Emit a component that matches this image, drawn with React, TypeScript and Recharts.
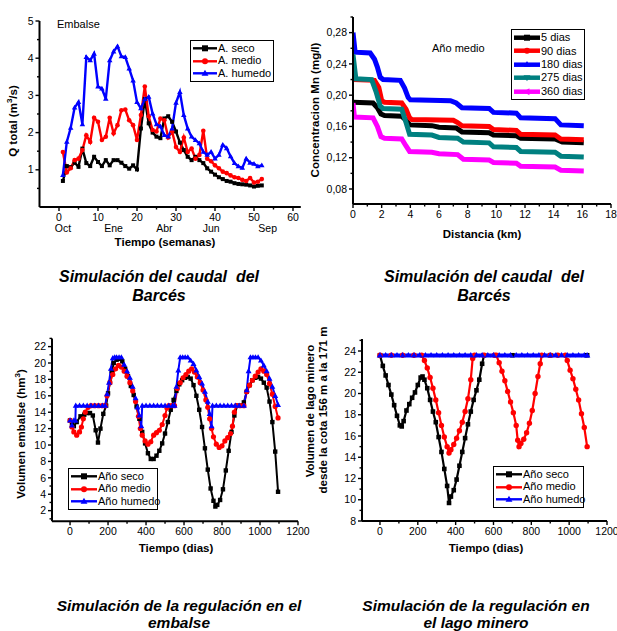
import React from 'react';
import { LineChart, Line, XAxis, YAxis } from 'recharts';

const FONT = "'Liberation Sans', Arial, Helvetica, sans-serif";

// ---- Caudal del Barcés (semanas)
const semanas = [1, 2, 3, 4, 5, 6, 7, 8, 9, 10, 11, 12, 13, 14, 15, 16, 17, 18, 19, 20, 21, 22, 23, 24, 25, 26,
  27, 28, 29, 30, 31, 32, 33, 34, 35, 36, 37, 38, 39, 40, 41, 42, 43, 44, 45, 46, 47, 48, 49, 50, 51, 52];
const qSeco = [0.7, 1.1, 1.07, 1.19, 1.08, 1.57, 1.18, 1.1, 1.35, 1.21, 1.1, 1.26, 1.12, 1.26, 1.26, 1.19, 1.1,
  1.03, 1.12, 1.01, 2.11, 2.9, 2.25, 2.0, 1.89, 1.85, 2.38, 2.44, 2.29, 2.03, 1.73, 1.53, 1.35, 1.26, 1.35, 1.26,
  1.18, 1.04, 0.95, 0.87, 0.8, 0.75, 0.7, 0.68, 0.64, 0.62, 0.61, 0.6, 0.58, 0.55, 0.57, 0.58];
const qMedio = [1.48, 0.93, 1.04, 1.26, 1.3, 1.53, 1.93, 1.75, 2.4, 2.29, 1.8, 1.89, 2.4, 1.98, 2.2, 2.6, 2.62,
  2.33, 2.2, 1.8, 2.47, 3.24, 2.44, 2.07, 2.03, 2.38, 2.33, 1.87, 2.03, 1.61, 1.48, 1.87, 1.48, 1.57, 1.3, 1.4,
  2.05, 1.3, 1.23, 1.12, 1.04, 0.95, 0.91, 0.85, 0.8, 0.78, 0.73, 0.7, 0.78, 0.66, 0.68, 0.75];
const qHumedo = [0.86, 1.75, 2.13, 2.67, 2.82, 2.22, 4.03, 3.94, 4.12, 3.24, 3.18, 2.91, 3.94, 4.18, 4.32, 4.05,
  4.03, 3.72, 3.4, 2.82, 2.65, 2.9, 2.96, 2.51, 2.22, 2.17, 1.93, 1.89, 2.11, 2.8, 3.09, 2.47, 2.11, 1.89, 1.8,
  1.71, 1.48, 1.4, 1.48, 1.3, 1.4, 1.67, 1.58, 1.36, 1.18, 1.09, 1.05, 1.3, 1.19, 1.16, 1.09, 1.12];
const mesSemana = [1, 14, 27, 39, 53.5];
const meses = ['Oct', 'Ene', 'Abr', 'Jun', 'Sep'];
const ticksSemana = [0, 10, 20, 30, 40, 50, 60];
const ticksQ = [1, 2, 3, 4, 5];

// ---- Concentración Mn, año medio (km)
const km5 = [0, 1.4, 1.7, 1.95, 2.2, 3.4, 3.7, 3.95, 5.5, 6.0, 7.2, 7.6, 9.5, 9.8, 11.4, 11.7, 14.1, 14.6, 16.1];
const mn5 = [0.191, 0.19, 0.184, 0.176, 0.174, 0.173, 0.168, 0.162, 0.161, 0.159, 0.158, 0.153, 0.152, 0.149,
  0.148, 0.145, 0.144, 0.14, 0.139];
const km90 = [0, 0.1, 1.5, 1.8, 2.0, 2.2, 3.4, 3.7, 3.95, 4.1, 7.0, 7.3, 7.6, 9.5, 9.8, 11.4, 11.7, 14.1, 14.5, 16.1];
const mn90 = [0.243, 0.22, 0.219, 0.21, 0.193, 0.191, 0.19, 0.182, 0.171, 0.169, 0.168, 0.165, 0.161, 0.16, 0.156,
  0.155, 0.15, 0.149, 0.144, 0.143];
const km180 = [0, 0.15, 1.2, 1.5, 1.7, 1.9, 2.1, 3.3, 3.6, 3.85, 4.0, 6.8, 7.2, 7.6, 9.5, 9.8, 11.4, 11.7, 14.1,
  14.5, 16.1];
const mn180 = [0.28, 0.255, 0.254, 0.246, 0.236, 0.223, 0.22, 0.219, 0.209, 0.197, 0.194, 0.193, 0.19, 0.184,
  0.183, 0.178, 0.177, 0.171, 0.17, 0.162, 0.161];
const km275 = [0, 0.2, 1.3, 1.6, 1.9, 2.1, 3.4, 3.7, 3.95, 5.5, 6.0, 7.3, 7.7, 9.5, 9.8, 11.4, 11.7, 14.1, 14.5, 16.1];
const mn275 = [0.252, 0.221, 0.22, 0.205, 0.186, 0.183, 0.182, 0.165, 0.15, 0.149, 0.146, 0.145, 0.14, 0.139,
  0.134, 0.133, 0.128, 0.127, 0.122, 0.121];
const km360 = [0, 0.1, 1.4, 1.7, 1.95, 2.2, 3.4, 3.7, 3.95, 5.5, 6.0, 7.3, 7.7, 9.5, 9.8, 11.4, 11.7, 14.1, 14.5, 16.1];
const mn360 = [0.19, 0.172, 0.171, 0.16, 0.147, 0.145, 0.144, 0.135, 0.128, 0.127, 0.125, 0.124, 0.118, 0.117,
  0.114, 0.113, 0.109, 0.108, 0.104, 0.103];
const ticksKm = [0, 2, 4, 6, 8, 10, 12, 14, 16, 18];
const ticksMn = [0.08, 0.12, 0.16, 0.2, 0.24, 0.28];

// ---- Regulación en el embalse (días)
const diasEmbSeco = [0, 10, 20, 35, 55, 75, 90, 105, 120, 135, 147, 160, 175, 190, 200, 210, 220, 230, 245, 260,
  275, 290, 305, 320, 335, 350, 365, 380, 395, 410, 425, 440, 455, 470, 485, 500, 515, 530, 545, 560, 575, 590,
  605, 620, 635, 650, 665, 680, 695, 710, 725, 740, 755, 765, 775, 790, 805, 820, 835, 850, 865, 880, 900, 915,
  930, 945, 960, 975, 990, 1005, 1020, 1035, 1050, 1065, 1080, 1095];
const volEmbSeco = [13.0, 12.6, 12.3, 12.8, 13.5, 13.7, 13.9, 13.9, 13.6, 11.8, 10.3, 12.0, 13.8, 14.8, 16.3, 17.6,
  19.0, 20.0, 20.4, 20.5, 20.2, 19.3, 18.4, 17.2, 16.1, 14.7, 13.2, 11.6, 10.2, 9.0, 8.3, 8.3, 8.7, 9.3, 10.2, 11.4,
  12.8, 14.3, 15.5, 16.6, 17.4, 17.9, 18.2, 18.3, 18.1, 17.3, 16.0, 14.3, 12.2, 9.6, 7.0, 4.7, 3.2, 2.5, 2.7, 3.3,
  4.6, 6.9, 9.3, 11.6, 13.6, 14.8, 14.8, 15.2, 16.5, 17.3, 17.9, 18.2, 18.3, 18.1, 17.6, 17.0, 15.3, 12.8, 9.2, 4.3];
const diasEmbMedio = [0, 10, 20, 35, 50, 60, 70, 80, 95, 110, 130, 150, 170, 185, 195, 210, 225, 240, 255, 270, 285,
  300, 315, 330, 345, 360, 370, 380, 395, 410, 425, 440, 455, 470, 485, 500, 510, 520, 535, 550, 565, 580, 595, 610,
  625, 640, 655, 670, 685, 700, 715, 725, 735, 745, 755, 770, 785, 800, 815, 830, 845, 855, 865, 875, 895, 915, 930,
  945, 960, 975, 990, 1005, 1020, 1035, 1050, 1065, 1080, 1095];
const volEmbMedio = [13.0, 12.2, 11.6, 11.2, 11.6, 12.2, 13.2, 14.0, 14.6, 14.8, 14.8, 14.8, 14.8, 14.8, 16.0, 17.6,
  18.6, 19.3, 19.7, 19.5, 19.0, 18.4, 17.6, 16.6, 15.3, 13.5, 12.0, 11.2, 10.5, 10.1, 10.4, 11.2, 11.5, 11.8, 12.5,
  13.6, 14.5, 14.8, 14.8, 14.8, 16.9, 17.6, 18.2, 18.6, 19.0, 19.3, 18.9, 18.3, 17.6, 16.7, 15.5, 14.6, 13.2, 12.0,
  11.0, 10.1, 9.7, 9.9, 10.5, 10.9, 11.4, 12.3, 14.0, 14.8, 14.8, 14.8, 16.5, 17.3, 17.9, 18.4, 18.9, 19.3, 19.0,
  18.6, 17.5, 16.2, 14.7, 13.3];
const diasEmbHumedo = [0, 10, 20, 28, 30, 50, 70, 90, 110, 130, 150, 170, 185, 195, 205, 215, 225, 235, 245, 258, 270,
  285, 300, 315, 330, 345, 355, 365, 375, 380, 400, 420, 440, 460, 480, 500, 520, 540, 550, 560, 570, 580, 593, 606,
  620, 635, 650, 665, 680, 695, 710, 725, 735, 745, 750, 770, 790, 810, 830, 850, 870, 890, 915, 930, 940, 950, 963,
  976, 990, 1005, 1020, 1035, 1050, 1065, 1080, 1095];
const volEmbHumedo = [13.0, 12.4, 13.0, 13.0, 14.8, 14.8, 14.8, 14.8, 14.8, 14.8, 14.8, 14.8, 14.8, 16.2, 17.6, 19.3,
  20.6, 20.7, 20.7, 20.7, 20.7, 19.8, 19.0, 18.2, 17.1, 15.7, 14.6, 13.6, 12.3, 14.8, 14.8, 14.8, 14.8, 14.8, 14.8,
  14.8, 14.8, 14.8, 14.8, 17.1, 19.1, 20.7, 20.7, 20.7, 20.7, 20.3, 19.9, 19.1, 18.3, 17.5, 16.5, 15.3, 13.8, 12.3,
  14.8, 14.8, 14.8, 14.8, 14.8, 14.8, 14.8, 14.8, 14.8, 16.7, 19.0, 20.7, 20.7, 20.7, 20.7, 20.3, 19.7, 19.0, 18.1,
  17.1, 16.0, 14.9];
const ticksDias = [0, 200, 400, 600, 800, 1000, 1200];
const ticksVolEmb = [2, 4, 6, 8, 10, 12, 14, 16, 18, 20, 22];

// ---- Regulación en el lago minero (días)
const diasLagoSeco = [0, 15, 30, 45, 60, 75, 90, 105, 115, 125, 140, 155, 170, 185, 200, 215, 225, 235, 250, 265, 280,
  295, 310, 325, 340, 355, 365, 375, 390, 405, 420, 435, 450, 465, 480, 495, 510, 525, 540, 550, 700, 900, 1095];
const volLagoSeco = [23.6, 22.6, 21.7, 20.8, 19.9, 18.9, 17.9, 17.0, 16.9, 17.4, 18.4, 19.0, 19.6, 20.1, 20.8, 21.5,
  21.6, 21.3, 20.5, 19.4, 18.3, 17.3, 15.9, 14.5, 12.9, 11.3, 9.7, 10.3, 10.9, 11.9, 13.2, 14.5, 15.8, 17.1, 18.3,
  19.4, 20.3, 21.3, 22.8, 23.6, 23.6, 23.6, 23.6];
const diasLagoMedio = [0, 60, 120, 180, 220, 235, 250, 265, 280, 295, 310, 325, 340, 355, 365, 375, 390, 405, 420,
  435, 450, 465, 480, 490, 500, 550, 605, 615, 630, 645, 660, 675, 690, 705, 720, 728, 735, 745, 760, 775, 790, 805,
  820, 835, 847, 855, 900, 940, 980, 990, 1005, 1020, 1035, 1050, 1065, 1080, 1095];
const volLagoMedio = [23.6, 23.6, 23.6, 23.6, 23.6, 23.1, 22.4, 21.5, 20.5, 19.4, 18.2, 17.0, 15.9, 15.0, 14.4, 14.7,
  15.2, 15.8, 16.5, 17.3, 18.3, 19.5, 21.3, 23.3, 23.6, 23.6, 23.6, 23.6, 22.9, 22.1, 21.2, 20.2, 19.2, 18.2, 17.0,
  15.6, 15.0, 15.3, 15.7, 16.3, 17.2, 18.4, 20.0, 21.6, 22.8, 23.6, 23.6, 23.6, 23.6, 23.1, 22.2, 21.4, 20.4, 19.4,
  18.1, 16.8, 15.0];
const diasLagoHumedo = [0, 30, 60, 90, 120, 150, 180, 210, 240, 270, 300, 330, 360, 390, 420, 450, 480, 510, 540,
  570, 600, 630, 660, 690, 720, 750, 780, 810, 840, 870, 900, 930, 960, 990, 1020, 1050, 1080, 1095];
const volLagoHumedo = [23.6, 23.6, 23.6, 23.6, 23.6, 23.6, 23.6, 23.6, 23.6, 23.6, 23.6, 23.6, 23.6, 23.6, 23.6,
  23.6, 23.6, 23.6, 23.6, 23.6, 23.6, 23.6, 23.6, 23.6, 23.6, 23.6, 23.6, 23.6, 23.6, 23.6, 23.6, 23.6, 23.6, 23.6,
  23.6, 23.6, 23.6, 23.6];
const ticksVolLago = [8, 10, 12, 14, 16, 18, 20, 22, 24];

type Shape = 'square' | 'circle' | 'tri' | 'tridown' | 'trileft';

const pares = (xs: number[], ys: number[]) => xs.map((x, i) => ({ x, v: ys[i] }));
const conMenores = (majors: number[]) => {
  const step = majors[1] - majors[0];
  const out: number[] = [];
  majors.forEach((m) => { out.push(m); out.push(+(m + step / 2).toFixed(6)); });
  return out;
};
const near = (v: number, list: number[]) => list.some((m) => Math.abs(m - v) < 1e-6);

const Marker = ({ shape, cx, cy, s, color }: { shape: Shape; cx: number; cy: number; s: number; color: string }) => {
  if (shape === 'square') return <rect x={cx - s} y={cy - s} width={2 * s} height={2 * s} fill={color} />;
  if (shape === 'circle') return <circle cx={cx} cy={cy} r={s} fill={color} />;
  if (shape === 'tri')
    return <path d={`M${cx},${cy - s * 1.2}L${cx + s * 1.15},${cy + s * 0.8}L${cx - s * 1.15},${cy + s * 0.8}Z`} fill={color} />;
  if (shape === 'tridown')
    return <path d={`M${cx},${cy + s * 1.2}L${cx + s * 1.15},${cy - s * 0.8}L${cx - s * 1.15},${cy - s * 0.8}Z`} fill={color} />;
  return <path d={`M${cx - s * 1.2},${cy}L${cx + s * 0.8},${cy - s * 1.15}L${cx + s * 0.8},${cy + s * 1.15}Z`} fill={color} />;
};

const dotOf = (shape: Shape, color: string, s: number) => (p: any) => {
  if (p.cx == null || p.cy == null) return <g key={`e-${p.index}`} />;
  return (
    <g key={`${shape}-${p.index}`}>
      <Marker shape={shape} cx={p.cx} cy={p.cy} s={s} color={color} />
    </g>
  );
};

const yTick = (majors: number[], fmt: (v: number) => string) => (p: any) => {
  const v = p.payload.value;
  const major = near(v, majors);
  const len = major ? 4 : 2.5;
  return (
    <g>
      <line x1={p.x} y1={p.y} x2={p.x - len} y2={p.y} stroke="#000" strokeWidth={1.4} />
      {major && (
        <text x={p.x - 6} y={p.y} dy="0.35em" textAnchor="end" fontSize={10.5} fontFamily={FONT} fill="#000">
          {fmt(v)}
        </text>
      )}
    </g>
  );
};

const xTick = (majors: number[], fmt: (v: number) => string) => (p: any) => {
  const v = p.payload.value;
  const major = near(v, majors);
  const len = major ? 4 : 2.5;
  return (
    <g>
      <line x1={p.x} y1={p.y} x2={p.x} y2={p.y + len} stroke="#000" strokeWidth={1.4} />
      {major && (
        <text x={p.x} y={p.y + 14} textAnchor="middle" fontSize={10.5} fontFamily={FONT} fill="#000">
          {fmt(v)}
        </text>
      )}
    </g>
  );
};

// semanas: números más una segunda fila con los meses
const semanaTick = (p: any) => {
  const v = p.payload.value;
  const i = mesSemana.findIndex((m) => Math.abs(m - v) < 1e-6);
  if (i >= 0) {
    return (
      <text x={p.x} y={p.y + 25} textAnchor="middle" fontSize={10.5} fontFamily={FONT} fill="#000">
        {meses[i]}
      </text>
    );
  }
  return xTick(ticksSemana, (t) => String(t))(p);
};

const axisLine = { stroke: '#000', strokeWidth: 2 };
const coma = (v: number) => v.toFixed(2).replace('.', ',');

type Item = { name: string; color: string; shape: Shape };

const LegendBox = ({ left, top, width, rowH, lineW, lineStroke, items }: {
  left: number; top: number; width: number; rowH: number; lineW: number; lineStroke: number; items: Item[];
}) => (
  <div style={{ position: 'absolute', left, top, width, border: '1px solid #000', background: '#fff', padding: '1px 0', boxSizing: 'border-box' }}>
    {items.map((it) => (
      <div key={it.name} style={{ display: 'flex', alignItems: 'center', height: rowH }}>
        <svg width={lineW + 3} height={rowH} style={{ flex: 'none' }}>
          <line x1={2} x2={lineW + 2} y1={rowH / 2} y2={rowH / 2} stroke={it.color} strokeWidth={lineStroke} />
          <Marker shape={it.shape} cx={lineW / 2 + 2} cy={rowH / 2} s={3} color={it.color} />
        </svg>
        <span style={{ fontFamily: FONT, fontSize: 11, lineHeight: 1, whiteSpace: 'nowrap' }}>{it.name}</span>
      </div>
    ))}
  </div>
);

const Texto = ({ x, y, size, bold, italic, rotate, anchor, children }: any) => (
  <div
    style={{
      position: 'absolute', left: x, top: y, whiteSpace: 'nowrap', fontFamily: FONT, fontSize: size, lineHeight: 1,
      fontWeight: bold ? 'bold' : 'normal', fontStyle: italic ? 'italic' : 'normal', color: '#000',
      transform: rotate ? 'translate(-50%,-50%) rotate(-90deg)' : anchor === 'start' ? 'translate(0,-50%)' : 'translate(-50%,-50%)',
    }}
  >
    {children}
  </div>
);

const caudalData = semanas.map((s, i) => ({ semana: s, seco: qSeco[i], medio: qMedio[i], humedo: qHumedo[i] }));

const itemsCaudal: Item[] = [
  { name: 'A. seco', color: '#000000', shape: 'square' },
  { name: 'A. medio', color: '#ff0000', shape: 'circle' },
  { name: 'A. humedo', color: '#0000ff', shape: 'tri' },
];
const itemsMn: Item[] = [
  { name: '5 dias', color: '#000000', shape: 'square' },
  { name: '90 dias', color: '#ff0000', shape: 'circle' },
  { name: '180 dias', color: '#0000ff', shape: 'tri' },
  { name: '275 dias', color: '#008080', shape: 'tridown' },
  { name: '360 dias', color: '#ff00ff', shape: 'trileft' },
];
const itemsAnio: Item[] = [
  { name: 'Año seco', color: '#000000', shape: 'square' },
  { name: 'Año medio', color: '#ff0000', shape: 'circle' },
  { name: 'Año humedo', color: '#0000ff', shape: 'tri' },
];

export default function App() {
  return (
    <div style={{ position: 'fixed', left: 0, top: 0, width: 617, height: 631, background: '#fff', overflow: 'hidden' }}>
      {/* Panel 1: caudal */}
      <div style={{ position: 'absolute', left: 0, top: 0 }}>
        <LineChart width={310} height={260} data={caudalData} margin={{ top: 21, right: 9.2, bottom: 27, left: 0 }}>
          <XAxis dataKey="semana" type="number" domain={[-5, 62]} allowDataOverflow
            ticks={[...conMenores(ticksSemana).filter((t) => t <= 60), ...mesSemana].sort((a, b) => a - b)}
            interval={0} tickSize={0} tickMargin={0} tickLine={false} axisLine={axisLine} height={26}
            tick={semanaTick} />
          <YAxis type="number" domain={[0, 5]} allowDataOverflow ticks={[0.5, ...conMenores(ticksQ).filter((t) => t <= 5)]}
            interval={0} width={39.5} tickSize={0} tickMargin={0} tickLine={false} axisLine={axisLine}
            tick={yTick(ticksQ, (v) => String(v))} />
          <Line dataKey="seco" stroke="#000000" strokeWidth={2.4} dot={dotOf('square', '#000000', 2)} isAnimationActive={false} />
          <Line dataKey="medio" stroke="#ff0000" strokeWidth={2.4} dot={dotOf('circle', '#ff0000', 2.3)} isAnimationActive={false} />
          <Line dataKey="humedo" stroke="#0000ff" strokeWidth={2.4} dot={dotOf('tri', '#0000ff', 2.4)} isAnimationActive={false} />
        </LineChart>
      </div>
      <Texto x={57} y={24} size={11} anchor="start">Embalse</Texto>
      <Texto x={13} y={121} size={11.5} bold rotate>Q total (m<sup style={{ fontSize: 8 }}>3</sup>/s)</Texto>
      <Texto x={165} y={243} size={11.5} bold>Tiempo (semanas)</Texto>
      <LegendBox left={190} top={40} width={84} rowH={12.6} lineW={24} lineStroke={2.4} items={itemsCaudal} />

      {/* Panel 2: Mn */}
      <div style={{ position: 'absolute', left: 310, top: 0 }}>
        <LineChart width={307} height={260} margin={{ top: 17, right: 6, bottom: 42, left: 0 }}>
          <XAxis dataKey="x" type="number" domain={[0, 18]} allowDataOverflow ticks={conMenores(ticksKm).filter((t) => t <= 18)}
            interval={0} tickSize={0} tickMargin={0} tickLine={false} axisLine={axisLine} height={14}
            tick={xTick(ticksKm, (v) => String(v))} />
          <YAxis type="number" domain={[0.0608, 0.3]} allowDataOverflow ticks={[0.06, ...conMenores(ticksMn)].filter((t) => t > 0.061 && t <= 0.3)}
            interval={0} width={43} tickSize={0} tickMargin={0} tickLine={false} axisLine={axisLine}
            tick={yTick(ticksMn, coma)} />
          <Line data={pares(km5, mn5)} dataKey="v" stroke="#000000" strokeWidth={5} dot={false} isAnimationActive={false} />
          <Line data={pares(km90, mn90)} dataKey="v" stroke="#ff0000" strokeWidth={5} dot={false} isAnimationActive={false} />
          <Line data={pares(km180, mn180)} dataKey="v" stroke="#0000ff" strokeWidth={5} dot={false} isAnimationActive={false} />
          <Line data={pares(km275, mn275)} dataKey="v" stroke="#008080" strokeWidth={5} dot={false} isAnimationActive={false} />
          <Line data={pares(km360, mn360)} dataKey="v" stroke="#ff00ff" strokeWidth={5} dot={false} isAnimationActive={false} />
        </LineChart>
      </div>
      <Texto x={432} y={48} size={11} anchor="start">Año medio</Texto>
      <Texto x={316} y={110} size={11.5} bold rotate>Concentracion Mn (mg/l)</Texto>
      <Texto x={482} y={235} size={11.5} bold>Distancia (km)</Texto>
      <LegendBox left={511} top={29} width={74} rowH={13.4} lineW={26} lineStroke={4.5} items={itemsMn} />

      {/* Panel 3: embalse */}
      <div style={{ position: 'absolute', left: 0, top: 320 }}>
        <LineChart width={310} height={240} margin={{ top: 18.4, right: 12, bottom: 24.7, left: 0 }}>
          <XAxis dataKey="x" type="number" domain={[-95, 1200]} allowDataOverflow ticks={conMenores(ticksDias).filter((t) => t <= 1200)}
            interval={0} tickSize={0} tickMargin={0} tickLine={false} axisLine={axisLine} height={14}
            tick={xTick(ticksDias, (v) => String(v))} />
          <YAxis type="number" domain={[0.7, 23]} allowDataOverflow ticks={[1, ...conMenores(ticksVolEmb)]}
            interval={0} width={52} tickSize={0} tickMargin={0} tickLine={false} axisLine={axisLine}
            tick={yTick(ticksVolEmb, (v) => String(v))} />
          <Line data={pares(diasEmbSeco, volEmbSeco)} dataKey="v" stroke="#000000" strokeWidth={2} dot={dotOf('square', '#000000', 2.2)} isAnimationActive={false} />
          <Line data={pares(diasEmbMedio, volEmbMedio)} dataKey="v" stroke="#ff0000" strokeWidth={2} dot={dotOf('circle', '#ff0000', 2.6)} isAnimationActive={false} />
          <Line data={pares(diasEmbHumedo, volEmbHumedo)} dataKey="v" stroke="#0000ff" strokeWidth={2} dot={dotOf('tri', '#0000ff', 2.6)} isAnimationActive={false} />
        </LineChart>
      </div>
      <Texto x={21} y={434} size={11.5} bold rotate>Volumen embalse (hm<sup style={{ fontSize: 8 }}>3</sup>)</Texto>
      <Texto x={176} y={549} size={11.5} bold>Tiempo (dias)</Texto>
      <LegendBox left={68} top={468} width={90} rowH={12.6} lineW={26} lineStroke={2.4} items={itemsAnio} />

      {/* Panel 4: lago minero */}
      <div style={{ position: 'absolute', left: 310, top: 320 }}>
        <LineChart width={307} height={240} margin={{ top: 19, right: 10, bottom: 25, left: 0 }}>
          <XAxis dataKey="x" type="number" domain={[-95, 1200]} allowDataOverflow ticks={conMenores(ticksDias).filter((t) => t <= 1200)}
            interval={0} tickSize={0} tickMargin={0} tickLine={false} axisLine={axisLine} height={14}
            tick={xTick(ticksDias, (v) => String(v))} />
          <YAxis type="number" domain={[8, 25.13]} allowDataOverflow ticks={conMenores(ticksVolLago)}
            interval={0} width={52} tickSize={0} tickMargin={0} tickLine={false} axisLine={axisLine}
            tick={yTick(ticksVolLago, (v) => String(v))} />
          <Line data={pares(diasLagoSeco, volLagoSeco)} dataKey="v" stroke="#000000" strokeWidth={2.2} dot={dotOf('square', '#000000', 2.3)} isAnimationActive={false} />
          <Line data={pares(diasLagoMedio, volLagoMedio)} dataKey="v" stroke="#ff0000" strokeWidth={2.2} dot={dotOf('circle', '#ff0000', 2.7)} isAnimationActive={false} />
          <Line data={pares(diasLagoHumedo, volLagoHumedo)} dataKey="v" stroke="#0000ff" strokeWidth={3.5} dot={dotOf('tri', '#0000ff', 2.8)} isAnimationActive={false} />
        </LineChart>
      </div>
      <Texto x={311} y={411} size={11.5} bold rotate>Volumen de lago minero</Texto>
      <Texto x={324} y={410} size={11.5} bold rotate>desde la cota 156 m a la 171 m</Texto>
      <Texto x={486} y={549} size={11.5} bold>Tiempo (dias)</Texto>
      <LegendBox left={493} top={466} width={91} rowH={12.6} lineW={26} lineStroke={2.4} items={itemsAnio} />

      {/* Pies de figura */}
      <Texto x={159} y={277} size={16} bold italic>Simulación del caudal&nbsp; del</Texto>
      <Texto x={159} y={296} size={16} bold italic>Barcés</Texto>
      <Texto x={484} y={277} size={16} bold italic>Simulación del caudal&nbsp; del</Texto>
      <Texto x={484} y={296} size={16} bold italic>Barcés</Texto>
      <Texto x={179} y={606} size={15.5} bold italic>Simulación de la regulación en el</Texto>
      <Texto x={179} y={623} size={15.5} bold italic>embalse</Texto>
      <Texto x={476} y={606} size={15.5} bold italic>Simulación de la regulación en</Texto>
      <Texto x={476} y={623} size={15.5} bold italic>el lago minero</Texto>
    </div>
  );
}
